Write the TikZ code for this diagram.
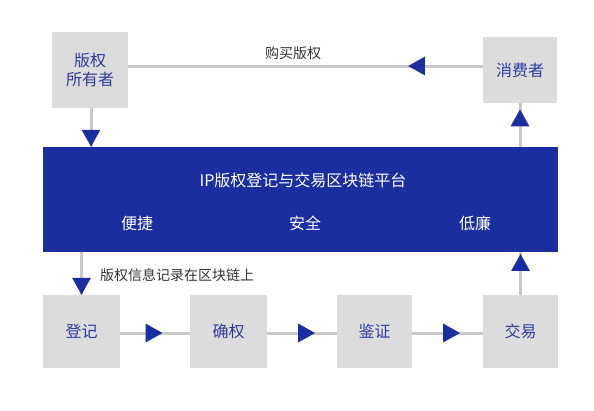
\documentclass[tikz,border=0pt]{standalone}
\usepackage{fontspec}
\setmainfont{Noto Sans CJK SC}
\usetikzlibrary{arrows.meta,decorations.markings}
\definecolor{platblue}{HTML}{1B2EA0}
\definecolor{boxgray}{HTML}{DCDCDC}
\definecolor{linegray}{HTML}{C9C9C9}
\definecolor{boxtext}{HTML}{2E3C9C}
\definecolor{labeltext}{HTML}{333333}
\tikzset{
  greybox/.style={fill=boxgray, draw=none, inner sep=0pt, text=boxtext, font=\fontsize{16}{19}\selectfont, align=center},
  conn/.style={draw=linegray, line width=3pt},
  tri/.style={postaction={decorate, decoration={markings, mark=at position #1 with {\arrow[platblue]{Triangle[length=17pt,width=18pt]}}}}},
  lbl/.style={text=labeltext, font=\fontsize{14}{16}\selectfont, inner sep=0pt},
  wlbl/.style={text=white, font=\fontsize{16}{19}\selectfont, inner sep=0pt}
}
\begin{document}
\begin{tikzpicture}[x=1pt,y=-1pt]
\useasboundingbox[fill=white] (0,0) rectangle (594,410);
% boxes
\node[greybox, minimum width=76pt, minimum height=76pt] (owner) at (90,70) {版权\\所有者};
\node[greybox, minimum width=74pt, minimum height=66pt] (consumer) at (520,70) {消费者};
\node[fill=platblue, inner sep=0pt, minimum width=515pt, minimum height=105pt] (platform) at (300.5,199.5) {};
\node[greybox, minimum width=77pt, minimum height=73pt] (reg) at (81.5,331.5) {登记};
\node[greybox, minimum width=77pt, minimum height=73pt] (conf) at (228.5,331.5) {确权};
\node[greybox, minimum width=75pt, minimum height=73pt] (auth) at (374.5,331.5) {鉴证};
\node[greybox, minimum width=75pt, minimum height=73pt] (trade) at (520.5,331.5) {交易};
% platform texts
\node[wlbl] (ptitle) at (303,180) {IP版权登记与交易区块链平台};
\node[wlbl] (p1) at (137,223) {便捷};
\node[wlbl] (p2) at (305,223) {安全};
\node[wlbl] (p3) at (475,223) {低廉};
% connectors
\draw[conn, tri=0.211] ([yshift=4pt]consumer.west) -- ([yshift=4pt]owner.east);
\node[lbl] (buy) at (293,53) {购买版权};
\draw[conn, tri=1] ([xshift=1pt]owner.south) -- ([xshift=1pt]owner.south |- platform.north);
\draw[conn, tri=0.86] (consumer.south |- platform.north) -- (consumer.south);
\draw[conn, tri=1] (reg.north |- platform.south) -- (reg.north);
\node[lbl, anchor=west] (rec) at (100,275) {版权信息记录在区块链上};
\draw[conn, tri=0.96] (trade.north) -- (trade.north |- platform.south);
\draw[conn, tri=0.61] ([yshift=-1.5pt]reg.east) -- ([yshift=-1.5pt]conf.west);
\draw[conn, tri=0.69] ([yshift=-1.5pt]conf.east) -- ([yshift=-1.5pt]auth.west);
\draw[conn, tri=0.68] ([yshift=-1.5pt]auth.east) -- ([yshift=-1.5pt]trade.west);
\end{tikzpicture}
\end{document}
